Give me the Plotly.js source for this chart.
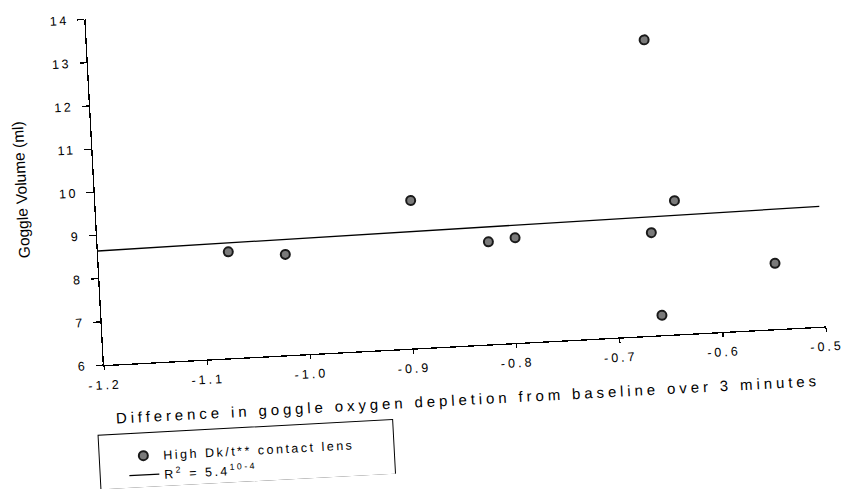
<!DOCTYPE html>
<html>
<head>
<meta charset="utf-8">
<script src="https://cdn.plot.ly/plotly-3.0.1.min.js"></script>
<style>
  html, body { margin: 0; padding: 0; background: #ffffff; overflow: hidden; }
  #plot { width: 846px; height: 489px; transform: rotate(-3.06deg); transform-origin: 104px 365px; }
  #plot .xtick text { letter-spacing: 3px; }
  #plot .ytick text { letter-spacing: 2.6px; }
  #plot .g-xtitle text { letter-spacing: 3.9px; }
  #plot .legendtext { letter-spacing: 2.5px; }
  #plot .legend .scrollbox, #plot .legend { clip-path: none !important; }
</style>
</head>
<body>
<div id="plot"></div>
<script>
// Scatter points: difference in goggle oxygen depletion vs goggle volume
const depletionDiff = [-1.074, -1.019, -0.895, -0.822, -0.796, -0.664, -0.661, -0.658, -0.640, -0.546];
const goggleVolume  = [8.46, 8.33, 9.42, 8.37, 8.43, 8.38, 12.84, 6.46, 9.09, 7.52];

// Regression line end points
const trendX = [-1.2, -0.5];
const trendY = [8.64, 8.78];

// Axis ticks
const xTickVals = [-1.2, -1.1, -1.0, -0.9, -0.8, -0.7, -0.6, -0.5];
const xTickText = ['-1.2', '-1.1', '-1.0', '-0.9', '-0.8', '-0.7', '-0.6', '-0.5'];
const yTickVals = [6, 7, 8, 9, 10, 11, 12, 13, 14];

const seriesNames = ['High Dk/t** contact lens', 'R<sup>2</sup> = 5.4<sup>10-4</sup>'];
const xTitle = 'Difference in goggle oxygen depletion from baseline over 3 minutes';
const yTitle = 'Goggle Volume (ml)';

const FONT = 'Arial, "Liberation Sans", sans-serif';

const traces = [
  {
    type: 'scatter', mode: 'markers',
    x: depletionDiff, y: goggleVolume,
    name: seriesNames[0],
    marker: { symbol: 'circle', size: 9, color: '#7a7a7a', line: { color: '#1a1a1a', width: 2 } }
  },
  {
    type: 'scatter', mode: 'lines',
    x: trendX, y: trendY,
    name: seriesNames[1],
    line: { color: '#000000', width: 1.3 }
  }
];

const layout = {
  width: 846, height: 489,
  paper_bgcolor: '#ffffff', plot_bgcolor: '#ffffff',
  margin: { l: 104, r: 18.5, t: 18.5, b: 124, pad: 0, autoexpand: false },
  font: { family: FONT, color: '#000000', size: 12 },
  showlegend: true,
  legend: {
    xref: 'container', yref: 'container',
    x: 0.14, y: 0.094, xanchor: 'left', yanchor: 'top',
    bgcolor: 'rgba(0,0,0,0)', borderwidth: 0,
    font: { family: FONT, size: 12.5, color: '#000' },
    tracegroupgap: 0
  },
  xaxis: {
    range: [-1.2, -0.5], tickvals: xTickVals, ticktext: xTickText,
    showline: true, linecolor: '#000', linewidth: 1.3,
    ticks: 'outside', ticklen: 4, tickwidth: 1.2, tickcolor: '#000',
    ticklabelstandoff: 4,
    showgrid: false, zeroline: false, automargin: false,
    tickfont: { family: FONT, size: 12.5, color: '#000' },
    title: { text: xTitle, font: { family: FONT, size: 15, color: '#000' }, standoff: 22 }
  },
  yaxis: {
    range: [6, 14], tickvals: yTickVals,
    showline: true, linecolor: '#000', linewidth: 1.3,
    ticks: 'outside', ticklen: 7, tickwidth: 1.2, tickcolor: '#000',
    ticklabelstandoff: 6,
    showgrid: false, zeroline: false, automargin: false,
    tickfont: { family: FONT, size: 12.5, color: '#000' }
  },
  annotations: [
    { text: yTitle, xref: 'paper', yref: 'paper', x: 0, y: 0.517,
      xanchor: 'center', yanchor: 'middle', xshift: -74, textangle: -90, showarrow: false,
      font: { family: FONT, size: 15.5, color: '#000' } }
  ],
  shapes: [
    { type: 'rect', xref: 'paper', yref: 'paper',
      x0: -0.0134, x1: 0.3946, y0: -0.202, y1: -0.36,
      line: { color: '#000', width: 1 }, fillcolor: 'rgba(0,0,0,0)' }
  ]
};

Plotly.newPlot('plot', traces, layout, { displayModeBar: false, staticPlot: true });
</script>
</body>
</html>
